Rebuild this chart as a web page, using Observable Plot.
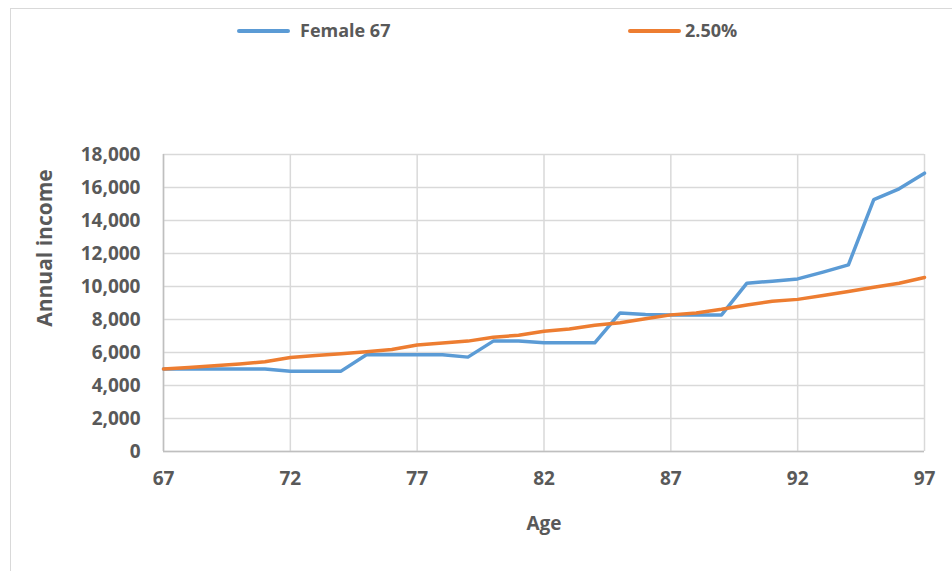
<!DOCTYPE html>
<html>
<head>
<meta charset="utf-8">
<script src="https://cdn.jsdelivr.net/npm/d3@7"></script>
<script src="https://cdn.jsdelivr.net/npm/@observablehq/plot@0.6"></script>
<style>
  body { margin: 0; background: #fff; }
  #wrap { position: relative; width: 952px; height: 571px; overflow: hidden; font-family: "Open Sans", sans-serif; background: #fff; }
  #border { position: absolute; left: 10px; top: 8px; width: 1000px; height: 700px; border: 1px solid #D9D9D9; box-sizing: border-box; }
  #chart { position: absolute; left: 0; top: 0; }
  .sw { position: absolute; height: 3.5px; border-radius: 2px; }
  .lt { position: absolute; font-weight: 700; font-size: 18px; color: #595959; line-height: 1; white-space: nowrap; }
</style>
</head>
<body>
<div id="wrap">
  <div id="border"></div>
  <div id="chart"></div>
  <div class="sw" style="left:237px;top:29px;width:53px;background:#5B9BD5"></div>
  <div class="lt" style="left:300px;top:21px">Female 67</div>
  <div class="sw" style="left:628px;top:29px;width:53px;background:#ED7D31"></div>
  <div class="lt" style="left:685px;top:21px">2.50%</div>
</div>
<script>
const ages = [67,68,69,70,71,72,73,74,75,76,77,78,79,80,81,82,83,84,85,86,87,88,89,90,91,92,93,94,95,96,97];
const female67 = [5000,5000,5000,5000,5000,4870,4870,4870,5860,5860,5860,5860,5720,6690,6690,6590,6590,6590,8400,8300,8280,8280,8280,10200,10320,10460,10870,11310,15270,15920,16870];
const growth250 = [5000,5090,5200,5310,5440,5700,5820,5930,6050,6180,6450,6570,6690,6920,7050,7290,7420,7650,7800,8050,8280,8400,8620,8880,9100,9220,9460,9700,9950,10200,10550];
const xTicks = [67,72,77,82,87,92,97];
const yTicks = [0,2000,4000,6000,8000,10000,12000,14000,16000,18000];
const seriesNames = ["Female 67", "2.50%"];
const xTitle = "Age";
const yTitle = "Annual income";

const grid = "#D9D9D9";
const axisCol = "#BFBFBF";
const textCol = "#595959";

const chart = Plot.plot({
  width: 952,
  height: 571,
  marginTop: 154,
  marginBottom: 120,
  marginLeft: 163,
  marginRight: 28,
  style: { fontFamily: "Open Sans, sans-serif", fontWeight: 700, fontSize: "18px", color: textCol, background: "transparent" },
  x: { domain: [67, 97] },
  y: { domain: [0, 18000] },
  marks: [
    Plot.gridY(yTicks, { stroke: grid, strokeOpacity: 1, strokeWidth: 1.5 }),
    Plot.gridX(xTicks, { stroke: grid, strokeOpacity: 1, strokeWidth: 1.5 }),
    Plot.ruleY([0], { stroke: axisCol, strokeWidth: 1.5 }),
    Plot.ruleX([67], { stroke: axisCol, strokeWidth: 1.5 }),
    Plot.axisY(yTicks, { tickSize: 0, tickPadding: 23, tickFormat: d3.format(","), label: null, fill: textCol, fontSize: 19 }),
    Plot.axisX(xTicks, { tickSize: 0, tickPadding: 20, label: null, fill: textCol, fontSize: 19 }),
    Plot.lineY(female67, { x: ages, stroke: "#5B9BD5", strokeWidth: 3.5, strokeLinejoin: "round", strokeLinecap: "round" }),
    Plot.lineY(growth250, { x: ages, stroke: "#ED7D31", strokeWidth: 3.5, strokeLinejoin: "round", strokeLinecap: "round" }),
    Plot.text([xTitle], { frameAnchor: "bottom", dy: 72, text: d => d, fill: textCol, fontSize: 19, fontWeight: 700, lineAnchor: "middle" }),
    Plot.text([yTitle], { frameAnchor: "left", dx: -118, dy: -55, rotate: -90, text: d => d, fill: textCol, fontSize: 21, fontWeight: 700, textAnchor: "middle", lineAnchor: "middle" })
  ]
});
document.getElementById("chart").appendChild(chart);
</script>
</body>
</html>
